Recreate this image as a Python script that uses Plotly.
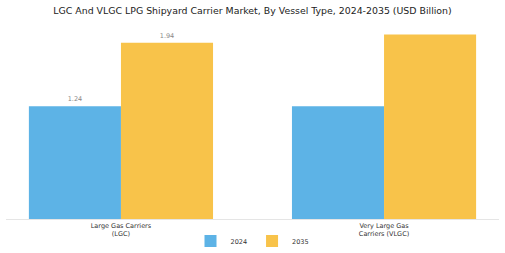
import plotly.graph_objects as go

categories = ["Large Gas Carriers<br>(LGC)", "Very Large Gas<br>Carriers (VLGC)"]
values_2024 = [1.24, 1.24]
values_2035 = [1.94, 2.03]
labels_2024 = ["1.24", ""]
labels_2035 = ["1.94", ""]

fig = go.Figure()
fig.add_trace(go.Bar(x=categories, y=values_2024, name="2024", marker_color="#5DB3E6",
                     marker_line_width=0, text=labels_2024, textposition="outside",
                     textfont=dict(size=6.5, color="#888888"), cliponaxis=False))
fig.add_trace(go.Bar(x=categories, y=values_2035, name="2035", marker_color="#F8C34A",
                     marker_line_width=0, text=labels_2035, textposition="outside",
                     textfont=dict(size=6.5, color="#888888"), cliponaxis=False))

fig.update_layout(
    width=505, height=253, autosize=False,
    margin=dict(l=6, r=6, t=19, b=34, autoexpand=False),
    paper_bgcolor="white", plot_bgcolor="white",
    title=dict(text="LGC And VLGC LPG Shipyard Carrier Market, By Vessel Type, 2024-2035 (USD Billion)",
               x=0.5, xanchor="center", xref="paper", y=0.958, yanchor="middle",
               font=dict(family="DejaVu Sans", size=9.4, color="#222222")),
    barmode="group", bargap=0.3, bargroupgap=0,
    font=dict(family="DejaVu Sans", size=6.5, color="#333333"),
    legend=dict(orientation="h", x=0.5, xanchor="center", xref="paper",
                yref="container", y=12/253, yanchor="middle",
                font=dict(size=6.5, color="#333333")),
    showlegend=True,
)
fig.update_xaxes(range=[-0.437, 1.437], showline=True, linecolor="#E5E5E5", linewidth=1,
                 automargin=False,
                 ticks="", tickfont=dict(size=6.5, color="#333333"), showgrid=False)
fig.update_yaxes(range=[0, 2.2], visible=False, showgrid=False)

fig.write_html("out.html")
